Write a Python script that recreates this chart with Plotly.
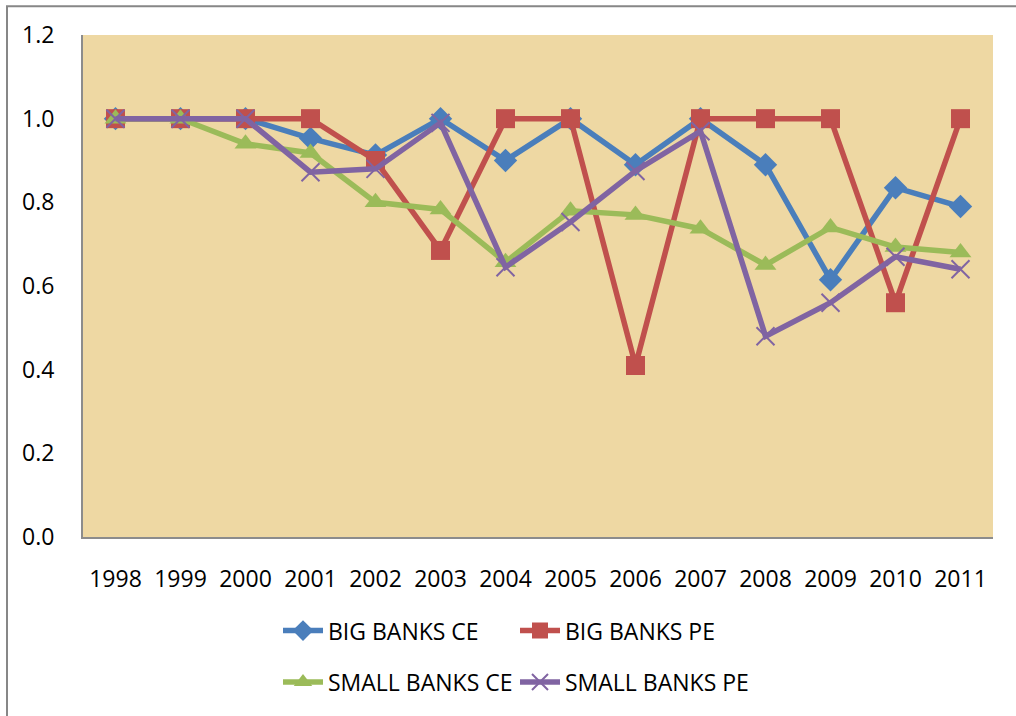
import plotly.graph_objects as go

years = [str(y) for y in range(1998, 2012)]
big_ce = [1.0, 1.0, 1.0, 0.953, 0.913, 1.0, 0.90, 1.0, 0.89, 1.0, 0.89, 0.615, 0.835, 0.79]
big_pe = [1.0, 1.0, 1.0, 1.0, 0.90, 0.685, 1.0, 1.0, 0.41, 1.0, 1.0, 1.0, 0.56, 1.0]
small_ce = [1.0, 1.0, 0.94, 0.918, 0.80, 0.783, 0.657, 0.78, 0.77, 0.737, 0.65, 0.74, 0.693, 0.68]
small_pe = [1.0, 1.0, 1.0, 0.872, 0.88, 0.99, 0.645, 0.753, 0.875, 0.97, 0.48, 0.56, 0.67, 0.64]
y_ticks = [0.0, 0.2, 0.4, 0.6, 0.8, 1.0, 1.2]

FONT = "Open Sans"
FS = 23

fig = go.Figure()
series = [
    ("BIG BANKS CE", big_ce, "#4A7EBB", "diamond", 18, "legend"),
    ("BIG BANKS PE", big_pe, "#C0504D", "square", 19, "legend"),
    ("SMALL BANKS CE", small_ce, "#9BBB59", "triangle-up", 19, "legend2"),
    ("SMALL BANKS PE", small_pe, "#8064A2", "x-thin-open", 18, "legend2"),
]
for name, vals, col, sym, sz, lg in series:
    marker = dict(symbol=sym, size=sz, color=col)
    if sym == "x-thin-open":
        marker["line"] = dict(color=col, width=2)
    else:
        marker["line"] = dict(width=0)
    fig.add_trace(go.Scatter(
        x=years, y=vals, name=name, mode="lines+markers",
        line=dict(color=col, width=5.5), marker=marker, legend=lg,
    ))

L, R, T, B = 83, 23, 35, 173
W, H = 1016, 716
pw, ph = W - L - R, H - T - B

fig.add_shape(type="rect", xref="paper", yref="paper",
              x0=(7 - L) / pw, x1=(1030 - L) / pw,
              y0=-(740 - (H - B)) / ph, y1=((H - B) - 6) / ph,
              line=dict(color="#878787", width=2), fillcolor="rgba(0,0,0,0)",
              layer="below")

legend_common = dict(orientation="h", x=(278 - L) / pw, xanchor="left",
                     yanchor="top", entrywidth=182, entrywidthmode="pixels",
                     font=dict(family=FONT, size=FS), bgcolor="rgba(0,0,0,0)",
                     itemwidth=40, tracegroupgap=0)

fig.update_layout(
    width=W, height=H,
    margin=dict(l=L, r=R, t=T, b=B),
    paper_bgcolor="white",
    plot_bgcolor="#EED8A3",
    font=dict(family=FONT, size=FS, color="black"),
    showlegend=True,
    legend=dict(legend_common, y=-(632 - 16 - (H - B)) / ph),
    legend2=dict(legend_common, y=-(684 - 16 - (H - B)) / ph),
    xaxis=dict(type="category", range=[-0.5, len(years) - 0.5],
               showgrid=False, zeroline=False,
               showline=True, linecolor="#8C8C8C", linewidth=2,
               ticks="outside", ticklen=20, tickcolor="rgba(0,0,0,0)",
               tickfont=dict(family=FONT, size=FS)),
    yaxis=dict(range=[0, 1.2], tickvals=y_ticks, tickformat=".1f",
               showgrid=False, zeroline=False,
               showline=True, linecolor="#8C8C8C", linewidth=2,
               ticks="outside", ticklen=22, tickcolor="rgba(0,0,0,0)",
               tickfont=dict(family=FONT, size=FS)),
)

fig.write_html("out.html")
